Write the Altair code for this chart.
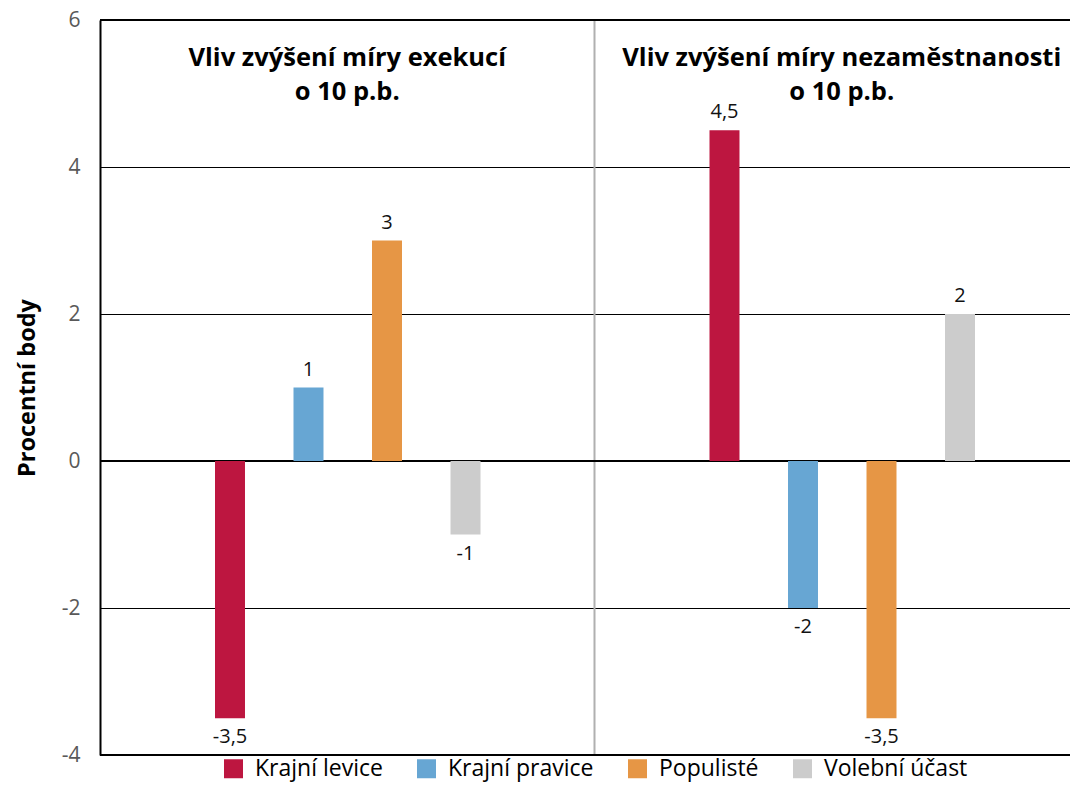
import altair as alt
import pandas as pd

# ---- data ----
panel_keys = ["exekuce", "nezamestnanost"]
panel_titles = ["Vliv zvýšení míry exekucí\no 10 p.b.",
                "Vliv zvýšení míry nezaměstnanosti\no 10 p.b."]
series = ["Krajní levice", "Krajní pravice", "Populisté", "Volební účast"]
colors = ["#BD1640", "#67A6D3", "#E69645", "#CCCCCC"]
values_exekuce = [-3.5, 1, 3, -1]
values_nezam = [4.5, -2, -3.5, 2]
y_ticks = [-4, -2, 0, 2, 4, 6]
heavy_lines = [6, 0, -4]
divider_panels = ["nezamestnanost"]

rows = []
for p, vals in zip(panel_keys, [values_exekuce, values_nezam]):
    for s, v in zip(series, vals):
        rows.append({"panel": p, "series": s, "value": v,
                     "label": f"{v:g}".replace(".", ",")})
df = pd.DataFrame(rows)
titles_df = pd.DataFrame({"panel": panel_keys, "title": panel_titles})
lines_df = pd.DataFrame({"value": heavy_lines})
div_df = pd.DataFrame({"panel": divider_panels})

FONT = "Open Sans"
W, H = 970, 735

yscale = alt.Scale(domain=[-4, 6], nice=False, zero=False)
yaxis = alt.Axis(values=y_ticks, grid=True, gridColor="#000000", gridWidth=1,
                 domain=True, domainColor="#000000", domainWidth=2, ticks=False,
                 labelFontSize=21, labelColor="#595959", labelPadding=20,
                 labelExpr="toString(datum.value)",
                 labelFont=FONT, titleFont=FONT, titleFontSize=23.5,
                 titleFontWeight="bold", titleColor="#000000", titlePadding=22)
Y = alt.Y("value:Q", scale=yscale, axis=yaxis, title="Procentní body")

xscale = alt.Scale(domain=panel_keys, paddingInner=0, paddingOuter=0, range=[0, 989])
X = alt.X("panel:N", scale=xscale, axis=None, sort=panel_keys)
XO = alt.XOffset("series:N", sort=series,
                 scale=alt.Scale(domain=series, paddingInner=0.618, paddingOuter=0,
                                 range=[115, 380.5]))

bars = alt.Chart(df).mark_bar().encode(
    x=X, xOffset=XO, y=Y,
    color=alt.Color("series:N", sort=series,
                    scale=alt.Scale(domain=series, range=colors),
                    legend=alt.Legend(title=None, orient="none", legendX=122, legendY=737,
                                      direction="horizontal", symbolType="square",
                                      symbolSize=361, symbolStrokeWidth=0,
                                      labelFontSize=23, labelFont=FONT, labelColor="#000000",
                                      columnPadding=32, labelOffset=10, padding=0)),
)

lab_pos = alt.Chart(df).transform_filter("datum.value > 0").mark_text(
    dy=-18, fontSize=20, font=FONT, color="#111111", baseline="middle"
).encode(x=X, xOffset=XO, y=Y, text="label:N")

lab_neg = alt.Chart(df).transform_filter("datum.value < 0").mark_text(
    dy=19, fontSize=20, font=FONT, color="#111111", baseline="middle"
).encode(x=X, xOffset=XO, y=Y, text="label:N")

heavy = alt.Chart(lines_df).mark_rule(color="#000000", strokeWidth=2).encode(y=Y)

divider = alt.Chart(div_df).mark_rule(color="#B0B0B0", strokeWidth=2).encode(
    x=alt.X("panel:N", scale=xscale, axis=None, sort=panel_keys, bandPosition=0)
)

titles = alt.Chart(titles_df).mark_text(
    fontSize=25.5, fontWeight="bold", font=FONT, color="#000000",
    baseline="alphabetic", lineBreak="\n", lineHeight=34, align="center"
).encode(x=X, y=alt.value(46), text="title:N")

chart = alt.layer(divider, heavy, bars, lab_pos, lab_neg, titles).properties(
    width=W, height=H,
    autosize=alt.AutoSizeParams(type="none"),
    padding={"left": 92, "top": 12, "right": 0, "bottom": 29},
    background="#FFFFFF",
).configure_view(stroke=None).configure(font=FONT)

chart.save("out.html", embed_options={"renderer": "svg", "actions": False})
